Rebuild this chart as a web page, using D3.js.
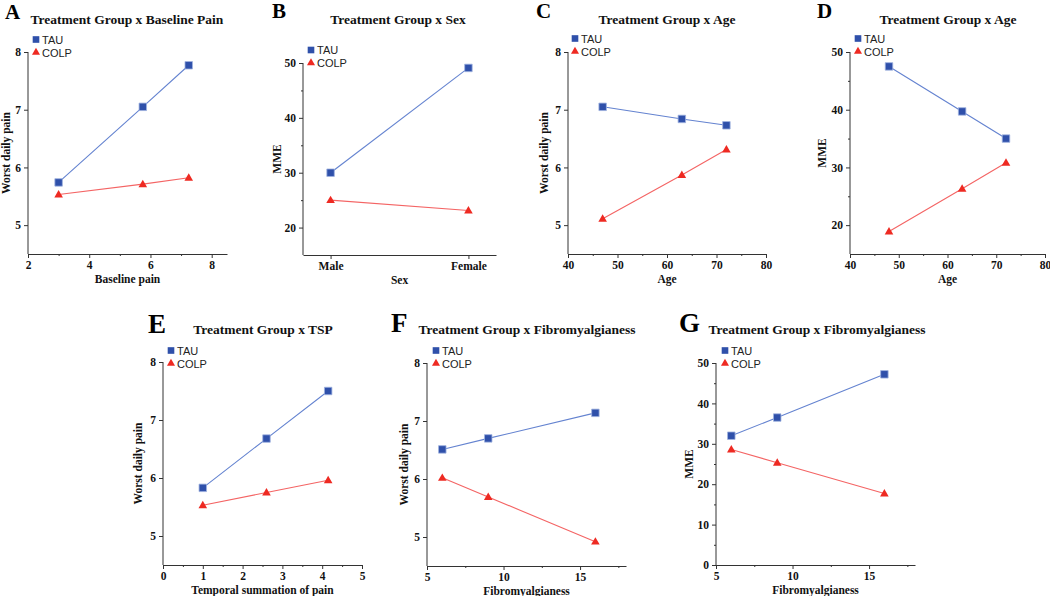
<!DOCTYPE html>
<html>
<head>
<meta charset="utf-8">
<script src="https://cdn.jsdelivr.net/npm/d3@7"></script>
<style>
  body { margin: 0; background: #fff; }
  svg { display: block; }
  .domain, .tick line { stroke: #333; }
</style>
</head>
<body>
<div id="chart"></div>
<script>
// data
const seriesNames = ["TAU", "COLP"];

const baselinePain = [3, 5.75, 7.25];
const tauA = [5.74, 7.05, 7.77];
const colpA = [5.53, 5.71, 5.82];

const sexCats = ["Male", "Female"];
const tauB = [30, 49.1];
const colpB = [25, 23.1];

const ageC = [47, 63, 72];
const tauC = [7.05, 6.84, 6.73];
const colpC = [5.11, 5.87, 6.31];

const ageD = [48, 63, 72];
const tauD = [47.5, 39.7, 35];
const colpD = [18.9, 26.3, 30.8];

const tspE = [1, 2.6, 4.15];
const tauE = [5.83, 6.68, 7.5];
const colpE = [5.53, 5.75, 5.96];

const fibroF = [6, 9, 16];
const tauF = [6.51, 6.7, 7.14];
const colpF = [6.02, 5.69, 4.92];

const fibroG = [6, 9, 16];
const tauG = [32, 36.5, 47.2];
const colpG = [28.6, 25.3, 17.7];

const painTicks = [5, 6, 7, 8];
const mmeTicks = [20, 30, 40, 50];
const mmeMinor = [25, 35, 45];
const mmeTicksG = [0, 10, 20, 30, 40, 50];
const mmeMinorG = [5, 15, 25, 35, 45];

const tauColor = "#2f50aa", tauLine = "#6483d0";
const colpColor = "#ee2a22", colpLine = "#f46464";

const width = 1050, height = 596;
const svg = d3.select("#chart").append("svg")
    .attr("width", width)
    .attr("height", height);

const panels = [
  { letter: "A", title: "Treatment Group x Baseline Pain", xLabel: "Baseline pain", yLabel: "Worst daily pain",
    x: baselinePain, tau: tauA, colp: colpA,
    left: 28, right: 227, top: 52, bottom: 254, xDomain: [2, 8.5], xTicks: [2, 4, 6, 8], xMinor: [3, 5, 7],
    yDomain: [4.5, 8], yTicks: painTicks, yMinor: [],
    titleX: 127, titleY: 24, letterX: 5, letterY: 19, letterSize: 21, legX: 36, legY: 39.5, yLabelX: 6 },
  { letter: "B", title: "Treatment Group x Sex", xLabel: "Sex", yLabel: "MME",
    x: sexCats, tau: tauB, colp: colpB, band: true,
    left: 303, right: 496, top: 63, bottom: 255, xDomain: sexCats,
    yDomain: [15, 50], yTicks: mmeTicks, yMinor: mmeMinor,
    titleX: 398, titleY: 24, letterX: 272, letterY: 18, letterSize: 21, legX: 311, legY: 50, yLabelX: 277 },
  { letter: "C", title: "Treatment Group x Age", xLabel: "Age", yLabel: "Worst daily pain",
    x: ageC, tau: tauC, colp: colpC,
    left: 568, right: 766, top: 52, bottom: 254, xDomain: [40, 80], xTicks: [40, 50, 60, 70, 80], xMinor: [45, 55, 65, 75],
    yDomain: [4.5, 8], yTicks: painTicks, yMinor: [],
    titleX: 667, titleY: 24, letterX: 536, letterY: 18, letterSize: 21, legX: 575, legY: 38.5, yLabelX: 544 },
  { letter: "D", title: "Treatment Group x Age", xLabel: "Age", yLabel: "MME",
    x: ageD, tau: tauD, colp: colpD,
    left: 850, right: 1045, top: 52, bottom: 254, xDomain: [40, 80], xTicks: [40, 50, 60, 70, 80], xMinor: [45, 55, 65, 75],
    yDomain: [15, 50], yTicks: mmeTicks, yMinor: mmeMinor,
    titleX: 948, titleY: 24, letterX: 817, letterY: 18, letterSize: 21, legX: 858, legY: 38.5, yLabelX: 822 },
  { letter: "E", title: "Treatment Group x TSP", xLabel: "Temporal summation of pain", yLabel: "Worst daily pain",
    x: tspE, tau: tauE, colp: colpE,
    left: 163, right: 362, top: 362, bottom: 565, xDomain: [0, 5], xTicks: [0, 1, 2, 3, 4, 5], xMinor: [0.5, 1.5, 2.5, 3.5, 4.5],
    yDomain: [4.5, 8], yTicks: painTicks, yMinor: [],
    titleX: 263, titleY: 334, letterX: 148, letterY: 333, letterSize: 27, legX: 171, legY: 350.5, yLabelX: 138 },
  { letter: "F", title: "Treatment Group x Fibromyalgianess", xLabel: "Fibromyalgianess", yLabel: "Worst daily pain",
    x: fibroF, tau: tauF, colp: colpF,
    left: 427, right: 626, top: 363, bottom: 566, xDomain: [5, 18], xTicks: [5, 10, 15], xMinor: [7.5, 12.5, 17.5],
    yDomain: [4.5, 8], yTicks: painTicks, yMinor: [],
    titleX: 527, titleY: 334, letterX: 391, letterY: 332, letterSize: 27, legX: 436, legY: 350.5, yLabelX: 404 },
  { letter: "G", title: "Treatment Group x Fibromyalgianess", xLabel: "Fibromyalgianess", yLabel: "MME",
    x: fibroG, tau: tauG, colp: colpG,
    left: 716, right: 915, top: 363, bottom: 565, xDomain: [5, 18], xTicks: [5, 10, 15], xMinor: [7.5, 12.5, 17.5],
    yDomain: [0, 50], yTicks: mmeTicksG, yMinor: mmeMinorG,
    titleX: 817, titleY: 334, letterX: 679, letterY: 332, letterSize: 27, legX: 725, legY: 350.5, yLabelX: 689 }
];

const serif = "'Liberation Serif', 'Times New Roman', serif";
const sans = "'Liberation Sans', Arial, sans-serif";
const square = d3.symbol().type(d3.symbolSquare).size(56);
const triangle = d3.symbol().type(d3.symbolTriangle).size(32);
const legSquare = d3.symbol().type(d3.symbolSquare).size(44);
const legTriangle = d3.symbol().type(d3.symbolTriangle).size(28);

function styleTicks(sel) {
    sel.attr("font-family", serif).attr("font-size", 11.5);
    sel.selectAll(".tick text").attr("font-weight", "bold").attr("fill", "#111");
}

panels.forEach(p => {
    const g = svg.append("g");

    const x = p.band
        ? d3.scalePoint().domain(p.xDomain).range([p.left, p.right]).padding(0.2)
        : d3.scaleLinear().domain(p.xDomain).range([p.left, p.right]);
    const y = d3.scaleLinear().domain(p.yDomain).range([p.bottom, p.top]);

    // y axis: line only from bottom to top tick
    const yAxis = g.append("g")
        .attr("transform", `translate(${p.left},0)`)
        .call(d3.axisLeft(y).tickValues(p.yTicks).tickFormat(d3.format("d"))
            .tickSize(4).tickSizeOuter(0).tickPadding(3))
        .call(styleTicks);
    yAxis.select(".domain").attr("d", `M0,${p.bottom}V${y(p.yDomain[1])}`);
    if (p.yMinor.length) {
        g.append("g")
            .attr("transform", `translate(${p.left},0)`)
            .call(d3.axisLeft(y).tickValues(p.yMinor).tickSize(2).tickFormat(""))
            .select(".domain").remove();
    }

    const xAxis = d3.axisBottom(x).tickSize(4).tickSizeOuter(0).tickPadding(3);
    if (!p.band) xAxis.tickValues(p.xTicks).tickFormat(d3.format("d"));
    g.append("g")
        .attr("transform", `translate(0,${p.bottom})`)
        .call(xAxis)
        .call(styleTicks);
    if (!p.band) {
        g.append("g")
            .attr("transform", `translate(0,${p.bottom})`)
            .call(d3.axisBottom(x).tickValues(p.xMinor).tickSize(2).tickFormat(""))
            .select(".domain").remove();
    }

    const pts = s => p.x.map((v, i) => [x(v), y(s[i])]);
    const line = d3.line();

    g.append("path").attr("d", line(pts(p.tau)))
        .attr("fill", "none").attr("stroke", tauLine).attr("stroke-width", 1.1);
    g.append("path").attr("d", line(pts(p.colp)))
        .attr("fill", "none").attr("stroke", colpLine).attr("stroke-width", 1.1);

    g.selectAll(".tau").data(pts(p.tau)).enter().append("path")
        .attr("transform", d => `translate(${d[0]},${d[1]})`)
        .attr("d", square)
        .attr("fill", tauColor).attr("stroke", "#9fb2e0").attr("stroke-width", 0.8);
    g.selectAll(".colp").data(pts(p.colp)).enter().append("path")
        .attr("transform", d => `translate(${d[0]},${d[1] + 0.5})`)
        .attr("d", triangle)
        .attr("fill", colpColor);

    // legend
    seriesNames.forEach((name, i) => {
        const ly = p.legY + i * 13;
        g.append("path")
            .attr("transform", `translate(${p.legX},${ly})`)
            .attr("d", i === 0 ? legSquare : legTriangle)
            .attr("fill", i === 0 ? tauColor : colpColor);
        g.append("text")
            .attr("x", p.legX + 6)
            .attr("y", ly + 4)
            .attr("font-family", sans)
            .attr("font-size", "11px")
            .attr("fill", "#222")
            .text(name);
    });

    g.append("text")
        .attr("x", p.titleX).attr("y", p.titleY)
        .attr("text-anchor", "middle")
        .attr("font-family", serif).attr("font-weight", "bold").attr("font-size", "13.5px")
        .attr("fill", "#111")
        .text(p.title);

    g.append("text")
        .attr("x", p.letterX).attr("y", p.letterY)
        .attr("font-family", serif).attr("font-weight", "bold").attr("font-size", p.letterSize + "px")
        .attr("fill", "#000")
        .text(p.letter);

    g.append("text")
        .attr("x", (p.left + p.right) / 2).attr("y", p.bottom + 29)
        .attr("text-anchor", "middle")
        .attr("font-family", serif).attr("font-weight", "bold").attr("font-size", "11.5px")
        .attr("fill", "#111")
        .text(p.xLabel);

    g.append("text")
        .attr("transform", `translate(${p.yLabelX},${(p.top + p.bottom) / 2}) rotate(-90)`)
        .attr("text-anchor", "middle")
        .attr("dy", "0.35em")
        .attr("font-family", serif).attr("font-weight", "bold").attr("font-size", "11.5px")
        .attr("fill", "#111")
        .text(p.yLabel);
});
</script>
</body>
</html>
